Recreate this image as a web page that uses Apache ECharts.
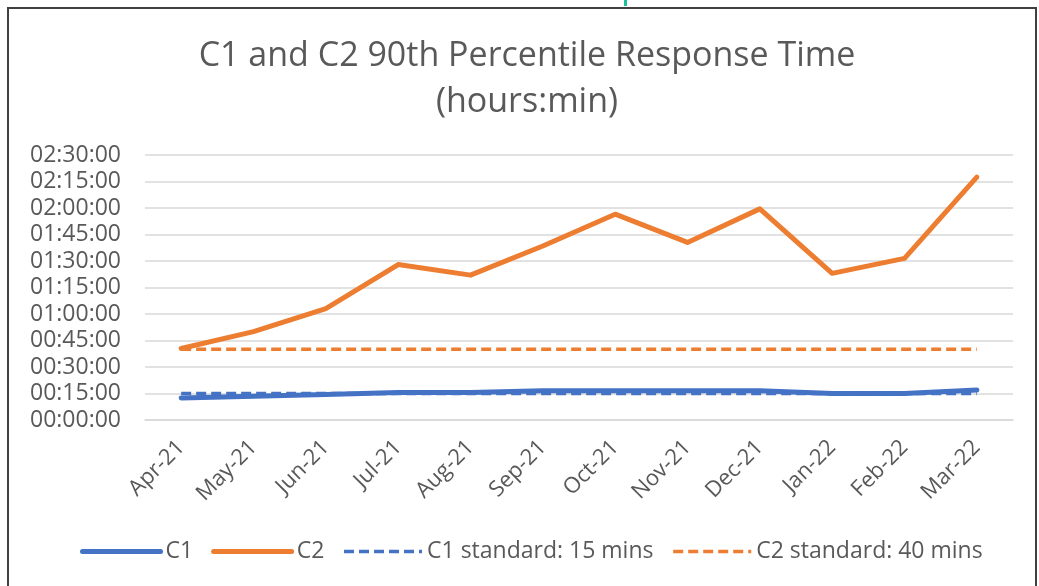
<!DOCTYPE html>
<html>
<head>
    <title>Response Time</title>
    <meta http-equiv="content-type" content="text/html; charset=utf-8">
    <script src="https://cdn.jsdelivr.net/npm/echarts@6.0.0/dist/echarts.min.js"></script>
    <style type="text/css">
    html, body {
        margin: 0;
        padding: 0;
        background: #fff;
    }
    #main {
        position: absolute;
        left: 0;
        top: 0;
        width: 1039px;
        height: 586px;
    }
    #frame {
        position: absolute;
        left: 7px;
        top: 7px;
        width: 1026px;
        height: 600px;
        border: 2px solid #404040;
        pointer-events: none;
    }
    #mark {
        position: absolute;
        left: 624px;
        top: 0;
        width: 3px;
        height: 6px;
        background: #19c39a;
    }
    </style>
</head>

<body>
    <div id="main"></div>
    <div id="frame"></div>
    <div id="mark"></div>
    <script type="text/javascript">
    // values are in minutes, shown as hh:mm:ss on the axis
    var months = ['Apr-21', 'May-21', 'Jun-21', 'Jul-21', 'Aug-21', 'Sep-21',
                  'Oct-21', 'Nov-21', 'Dec-21', 'Jan-22', 'Feb-22', 'Mar-22'];
    var c1 = [12.5, 13.5, 14.5, 15.5, 15.5, 16.5, 16.5, 16.5, 16.5, 15, 15, 17];
    var c2 = [40.5, 50, 63, 88, 82, 98.5, 116.5, 100.5, 119.5, 83, 91.5, 137.5];
    var c1Standard = [15, 15, 15, 15, 15, 15, 15, 15, 15, 15, 15, 15];
    var c2Standard = [40, 40, 40, 40, 40, 40, 40, 40, 40, 40, 40, 40];

    var blue = '#4472c4';
    var orange = '#ed7d31';
    var textColor = '#595959';
    var font = 'Open Sans';

    function pad(n) {
        return (n < 10 ? '0' : '') + n;
    }
    function toClock(mins) {
        var h = Math.floor(mins / 60);
        var m = Math.round(mins - h * 60);
        return pad(h) + ':' + pad(m) + ':00';
    }

    var solid = { width: 5, cap: 'round', join: 'round' };
    var dashed = { width: 3.5, type: [10, 5] };
    var noSymbol = { opacity: 0 };

    var myChart = echarts.init(document.getElementById('main'));

    myChart.setOption({
        backgroundColor: '#fff',
        animation: false,
        title: {
            text: 'C1 and C2 90th Percentile Response Time\n(hours:min)',
            left: 527,
            top: 33,
            padding: 0,
            textAlign: 'center',
            textStyle: {
                fontFamily: font,
                fontSize: 34,
                fontWeight: 'normal',
                color: textColor,
                lineHeight: 46
            }
        },
        legend: {
            left: 80,
            top: 540,
            padding: 0,
            itemWidth: 78,
            itemHeight: 14,
            itemGap: 18,
            textStyle: {
                fontFamily: font,
                fontSize: 23,
                color: textColor
            },
            data: [
                { name: 'C1', itemStyle: noSymbol, lineStyle: solid },
                { name: 'C2', itemStyle: noSymbol, lineStyle: solid },
                { name: 'C1 standard: 15 mins', itemStyle: noSymbol, lineStyle: dashed },
                { name: 'C2 standard: 40 mins', itemStyle: noSymbol, lineStyle: dashed }
            ]
        },
        grid: {
            left: 145,
            right: 26,
            top: 155,
            bottom: 166
        },
        xAxis: {
            type: 'category',
            data: months,
            axisLine: { show: true, lineStyle: { color: '#d9d9d9', width: 1.5 } },
            axisTick: { show: false },
            axisLabel: {
                rotate: 45,
                margin: 24,
                fontFamily: font,
                fontSize: 22,
                color: textColor
            }
        },
        yAxis: {
            type: 'value',
            min: 0,
            max: 150,
            interval: 15,
            axisLine: { show: false },
            axisTick: { show: false },
            splitLine: { lineStyle: { color: '#d9d9d9', width: 1.5 } },
            axisLabel: {
                margin: 24,
                fontFamily: font,
                fontSize: 23,
                color: textColor,
                formatter: toClock
            }
        },
        series: [{
            name: 'C1',
            type: 'line',
            data: c1,
            symbol: 'none',
            color: blue,
            lineStyle: solid
        }, {
            name: 'C2',
            type: 'line',
            data: c2,
            symbol: 'none',
            color: orange,
            lineStyle: solid
        }, {
            name: 'C1 standard: 15 mins',
            type: 'line',
            data: c1Standard,
            symbol: 'none',
            color: blue,
            lineStyle: dashed
        }, {
            name: 'C2 standard: 40 mins',
            type: 'line',
            data: c2Standard,
            symbol: 'none',
            color: orange,
            lineStyle: dashed
        }]
    });
    </script>
</body>
</html>
